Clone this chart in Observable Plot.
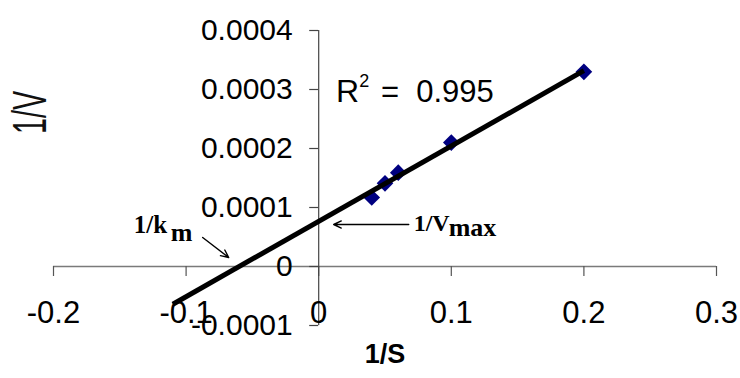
<!DOCTYPE html>
<html><head><meta charset="utf-8">
<script src="https://cdn.jsdelivr.net/npm/d3@7"></script>
<script src="https://cdn.jsdelivr.net/npm/@observablehq/plot@0.6"></script>
<style>body{margin:0;background:#fff;}</style>
</head><body><div id="chart"></div>
<script>
// Lineweaver-Burk data (1/S, 1/V)
const sValues = [0.04, 0.05, 0.06, 0.1, 0.2];
const vValues = [0.000117, 0.000141, 0.000159, 0.000210, 0.000330];
// trend line end points
const trendX = [-0.11, 0.2];
const trendY = [-0.000064, 0.000332];
const xTicks = [-0.2, -0.1, 0, 0.1, 0.2, 0.3];
const xTickLabels = ["-0.2", "-0.1", "0", "0.1", "0.2", "0.3"];
const yTicks = [-0.0001, 0, 0.0001, 0.0002, 0.0003, 0.0004];
const yTickLabels = ["-0.0001", "0", "0.0001", "0.0002", "0.0003", "0.0004"];
const rSquared = "0.995";
const xTitle = "1/S";
const yTitle = "1/V";
// annotation anchors (data coordinates)
const kmArrow = {x1: -0.0875, y1: 0.0000492, x2: -0.0679, y2: 0.0000153};
const vmaxArrow = {x1: 0.0679, y1: 0.0000712, x2: 0.0113, y2: 0.0000712};

const points = sValues.map((s, i) => ({s, v: vValues[i]}));
const trend = trendX.map((x, i) => ({x, y: trendY[i]}));
const xt = xTicks.map((v, i) => ({v, label: xTickLabels[i]}));
const yt = yTicks.map((v, i) => ({v, label: yTickLabels[i]}));

const axisColor = "#7a7a7a";
const serif = "'Liberation Serif', 'Times New Roman', serif";

const chart = Plot.plot({
  width: 740, height: 378,
  marginLeft: 53, marginRight: 24, marginTop: 30, marginBottom: 53,
  x: {domain: [-0.2, 0.3], axis: null},
  y: {domain: [-0.0001, 0.0004], axis: null},
  style: {fontFamily: "'Liberation Sans', Arial, sans-serif", background: "#fff", overflow: "visible", color: "#000"},
  marks: [
    // axes
    Plot.ruleY([0], {x1: xTicks[0], x2: xTicks[xTicks.length - 1], stroke: axisColor, strokeWidth: 1.3}),
    Plot.ruleX(xt, {x: "v", y1: 0, y2: 0, insetBottom: -10, stroke: "#555", strokeWidth: 1.2}),
    Plot.ruleX([0], {y1: yTicks[0], y2: yTicks[yTicks.length - 1], stroke: "#444", strokeWidth: 1.2}),
    Plot.ruleY(yt, {y: "v", x1: 0, x2: 0, insetLeft: -9, stroke: "#444", strokeWidth: 1.2}),
    Plot.text(xt, {x: "v", y: 0, dy: 47, text: "label", fontSize: 31, fill: "#000"}),
    Plot.text(yt, {x: 0, y: "v", dx: -26, text: "label", textAnchor: "end", fontSize: 30, fill: "#000"}),
    // titles
    Plot.text([xTitle], {frameAnchor: "bottom", dy: 37, text: d => d, fontSize: 27, fontWeight: "bold", fill: "#000"}),
    Plot.text([yTitle], {frameAnchor: "left", dx: -23, dy: -44, text: d => d, fontSize: 48, rotate: -90, fill: "#111"}),
    // data
    Plot.dot(points, {x: "s", y: "v", symbol: "diamond2", r: 7.5, fill: "#000080", stroke: "none"}),
    Plot.line(trend, {x: "x", y: "y", stroke: "#000", strokeWidth: 5, strokeLinecap: "butt"}),
    // R squared
    Plot.text(["R"], {x: 0.013, y: 0.000296, text: d => d, textAnchor: "start", fontSize: 32, fill: "#000"}),
    Plot.text(["2"], {x: 0.0305, y: 0.000314, text: d => d, textAnchor: "start", fontSize: 18, fill: "#000"}),
    Plot.text([rSquared], {x: 0.0469, y: 0.000296, text: d => "=\u00a0\u00a0" + d, textAnchor: "start", fontSize: 31, fill: "#000"}),
    // annotations
    Plot.arrow([kmArrow], {x1: "x1", y1: "y1", x2: "x2", y2: "y2", stroke: "#000", strokeWidth: 1.4, headLength: 9, headAngle: 50}),
    Plot.arrow([vmaxArrow], {x1: "x1", y1: "y1", x2: "x2", y2: "y2", stroke: "#000", strokeWidth: 1.4, headLength: 9, headAngle: 50}),
    Plot.text(["1/k"], {x: -0.1395, y: 0.0000695, text: d => d, textAnchor: "start", fontSize: 25, fontWeight: "bold", fontFamily: serif, fill: "#000"}),
    Plot.text(["m"], {x: -0.1115, y: 0.0000575, text: d => d, textAnchor: "start", fontSize: 26, fontWeight: "bold", fontFamily: serif, fill: "#000"}),
    Plot.text(["1/V"], {x: 0.0716, y: 0.0000729, text: d => d, textAnchor: "start", fontSize: 24, fontWeight: "bold", fontFamily: serif, fill: "#000"}),
    Plot.text(["max"], {x: 0.098, y: 0.0000650, text: d => d, textAnchor: "start", fontSize: 26, fontWeight: "bold", fontFamily: serif, fill: "#000"})
  ]
});
document.getElementById("chart").appendChild(chart);
// condense the rotated y-axis title like the original
d3.select(chart).selectAll("text").each(function() {
  const t = this.getAttribute("transform") || "";
  if (this.textContent === yTitle && t.includes("rotate")) {
    this.setAttribute("transform", t + " scale(0.6,1)");
  }
});
</script>
</body></html>
